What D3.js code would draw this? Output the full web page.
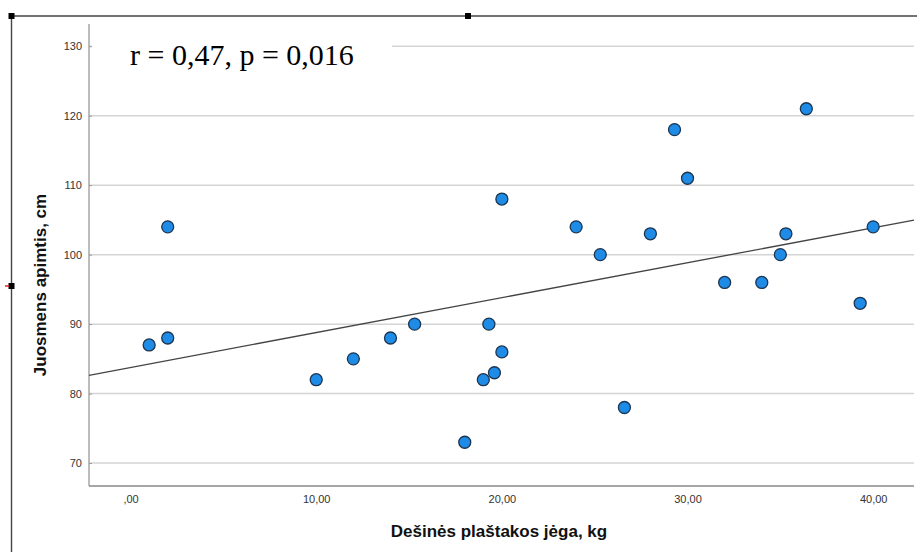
<!DOCTYPE html>
<html>
<head>
<meta charset="utf-8">
<script src="https://cdn.jsdelivr.net/npm/d3@7"></script>
<style>
  html, body { margin: 0; padding: 0; background: #fff; }
  svg { display: block; }
  .tick-label { font-family: "Liberation Sans", Arial, sans-serif; font-size: 11px; fill: #333; }
  .axis-title { font-family: "Liberation Sans", Arial, sans-serif; font-size: 17px; font-weight: bold; fill: #111; }
</style>
</head>
<body>
<div class="chart-container"></div>
<script>
//! DATA
const strength = [1, 2, 2, 10, 12, 14, 15.3, 18, 19, 19.3, 19.6, 20, 20, 24, 25.3, 26.6, 28, 29.3, 30, 32, 34, 35, 35.3, 36.4, 39.3, 40];
const waist = [87, 88, 104, 82, 85, 88, 90, 73, 82, 90, 83, 86, 108, 104, 100, 78, 103, 118, 111, 96, 96, 100, 103, 121, 93, 104];
const xTicks = [0, 10, 20, 30, 40];
const yTicks = [70, 80, 90, 100, 110, 120, 130];
const annotation = 'r = 0,47, p = 0,016';
const xTitle = 'Dešinės plaštakos jėga, kg';
const yTitle = 'Juosmens apimtis, cm';

//! CONSTS
const WIDTH = 917;
const HEIGHT = 552;
const LEFT = 89, RIGHT = 914, TOP = 24, BOTTOM = 486;

const svg = d3.select('.chart-container')
  .append('svg')
  .attr('width', WIDTH)
  .attr('height', HEIGHT);

const x = d3.scaleLinear().domain([-2.24, 42.2]).range([LEFT, RIGHT]);
const y = d3.scaleLinear().domain([66.7, 133.2]).range([BOTTOM, TOP]);

const fmt = v => (v === 0 ? ',00' : d3.format('.2f')(v).replace('.', ','));

// outer frame (selected object border)
svg.append('line').attr('x1', 11.5).attr('x2', WIDTH).attr('y1', 16).attr('y2', 16)
  .attr('stroke', '#444').attr('stroke-width', 1.4);
svg.append('line').attr('x1', 11.5).attr('x2', 11.5).attr('y1', 16).attr('y2', HEIGHT)
  .attr('stroke', '#444').attr('stroke-width', 1.4);
[[11.5, 16], [468, 16], [11.5, 286]].forEach(([hx, hy]) => {
  svg.append('rect').attr('x', hx - 3).attr('y', hy - 3).attr('width', 6).attr('height', 6).attr('fill', '#000');
});
svg.append('line').attr('x1', 5).attr('x2', 9).attr('y1', 286).attr('y2', 286)
  .attr('stroke', '#e02020').attr('stroke-width', 1.5);

//! GRID
svg.append('g')
  .selectAll('line')
  .data(yTicks)
  .enter()
  .append('line')
  .attr('x1', LEFT).attr('x2', RIGHT)
  .attr('y1', d => y(d)).attr('y2', d => y(d))
  .attr('stroke', '#d4d4d4')
  .attr('stroke-width', 1.5);

//! AXES
const yAxis = d3.axisLeft(y).tickValues(yTicks).tickSize(-3).tickPadding(7).tickFormat(d3.format('d'));
const yG = svg.append('g').attr('transform', `translate(${LEFT},0)`).call(yAxis);
yG.select('.domain').remove();
yG.selectAll('.tick line').attr('stroke', '#999');
yG.selectAll('.tick text').attr('class', 'tick-label').attr('font-family', null).attr('font-size', null);

const xAxis = d3.axisBottom(x).tickValues(xTicks).tickSize(0).tickPadding(9).tickFormat(fmt);
const xG = svg.append('g').attr('transform', `translate(0,${BOTTOM})`).call(xAxis);
xG.select('.domain').remove();
xG.selectAll('.tick text').attr('class', 'tick-label').attr('font-family', null).attr('font-size', null);

svg.append('line').attr('x1', LEFT).attr('x2', LEFT).attr('y1', TOP).attr('y2', BOTTOM)
  .attr('stroke', '#999').attr('stroke-width', 1.3);
svg.append('line').attr('x1', LEFT).attr('x2', RIGHT).attr('y1', BOTTOM).attr('y2', BOTTOM)
  .attr('stroke', '#888').attr('stroke-width', 1.5);

//! FIT LINE (least squares)
const mx = d3.mean(strength), my = d3.mean(waist);
const sxy = d3.sum(strength, (v, i) => (v - mx) * (waist[i] - my));
const sxx = d3.sum(strength, v => (v - mx) * (v - mx));
const slope = sxy / sxx;
const intercept = my - slope * mx;
const [x0, x1] = x.domain();
svg.append('line')
  .attr('x1', x(x0)).attr('y1', y(intercept + slope * x0))
  .attr('x2', x(x1)).attr('y2', y(intercept + slope * x1))
  .attr('stroke', '#444')
  .attr('stroke-width', 1.3);

//! POINTS
svg.append('g')
  .selectAll('circle')
  .data(strength.map((v, i) => [v, waist[i]]))
  .enter()
  .append('circle')
  .attr('cx', d => x(d[0]))
  .attr('cy', d => y(d[1]))
  .attr('r', 6)
  .attr('fill', '#1e8be6')
  .attr('stroke', '#1c3550')
  .attr('stroke-width', 1.3);

//! ANNOTATION
svg.append('rect').attr('x', 92).attr('y', 25).attr('width', 300).attr('height', 44).attr('fill', '#fff');
svg.append('text')
  .attr('x', 130).attr('y', 65)
  .attr('font-family', '"Liberation Serif", "Times New Roman", serif')
  .attr('font-size', 30)
  .attr('fill', '#000')
  .text(annotation);

//! TITLES
svg.append('text').attr('class', 'axis-title')
  .attr('x', 499).attr('y', 537)
  .attr('text-anchor', 'middle')
  .text(xTitle);
svg.append('text').attr('class', 'axis-title')
  .attr('transform', 'translate(46,285) rotate(-90)')
  .attr('text-anchor', 'middle')
  .text(yTitle);
</script>
</body>
</html>
